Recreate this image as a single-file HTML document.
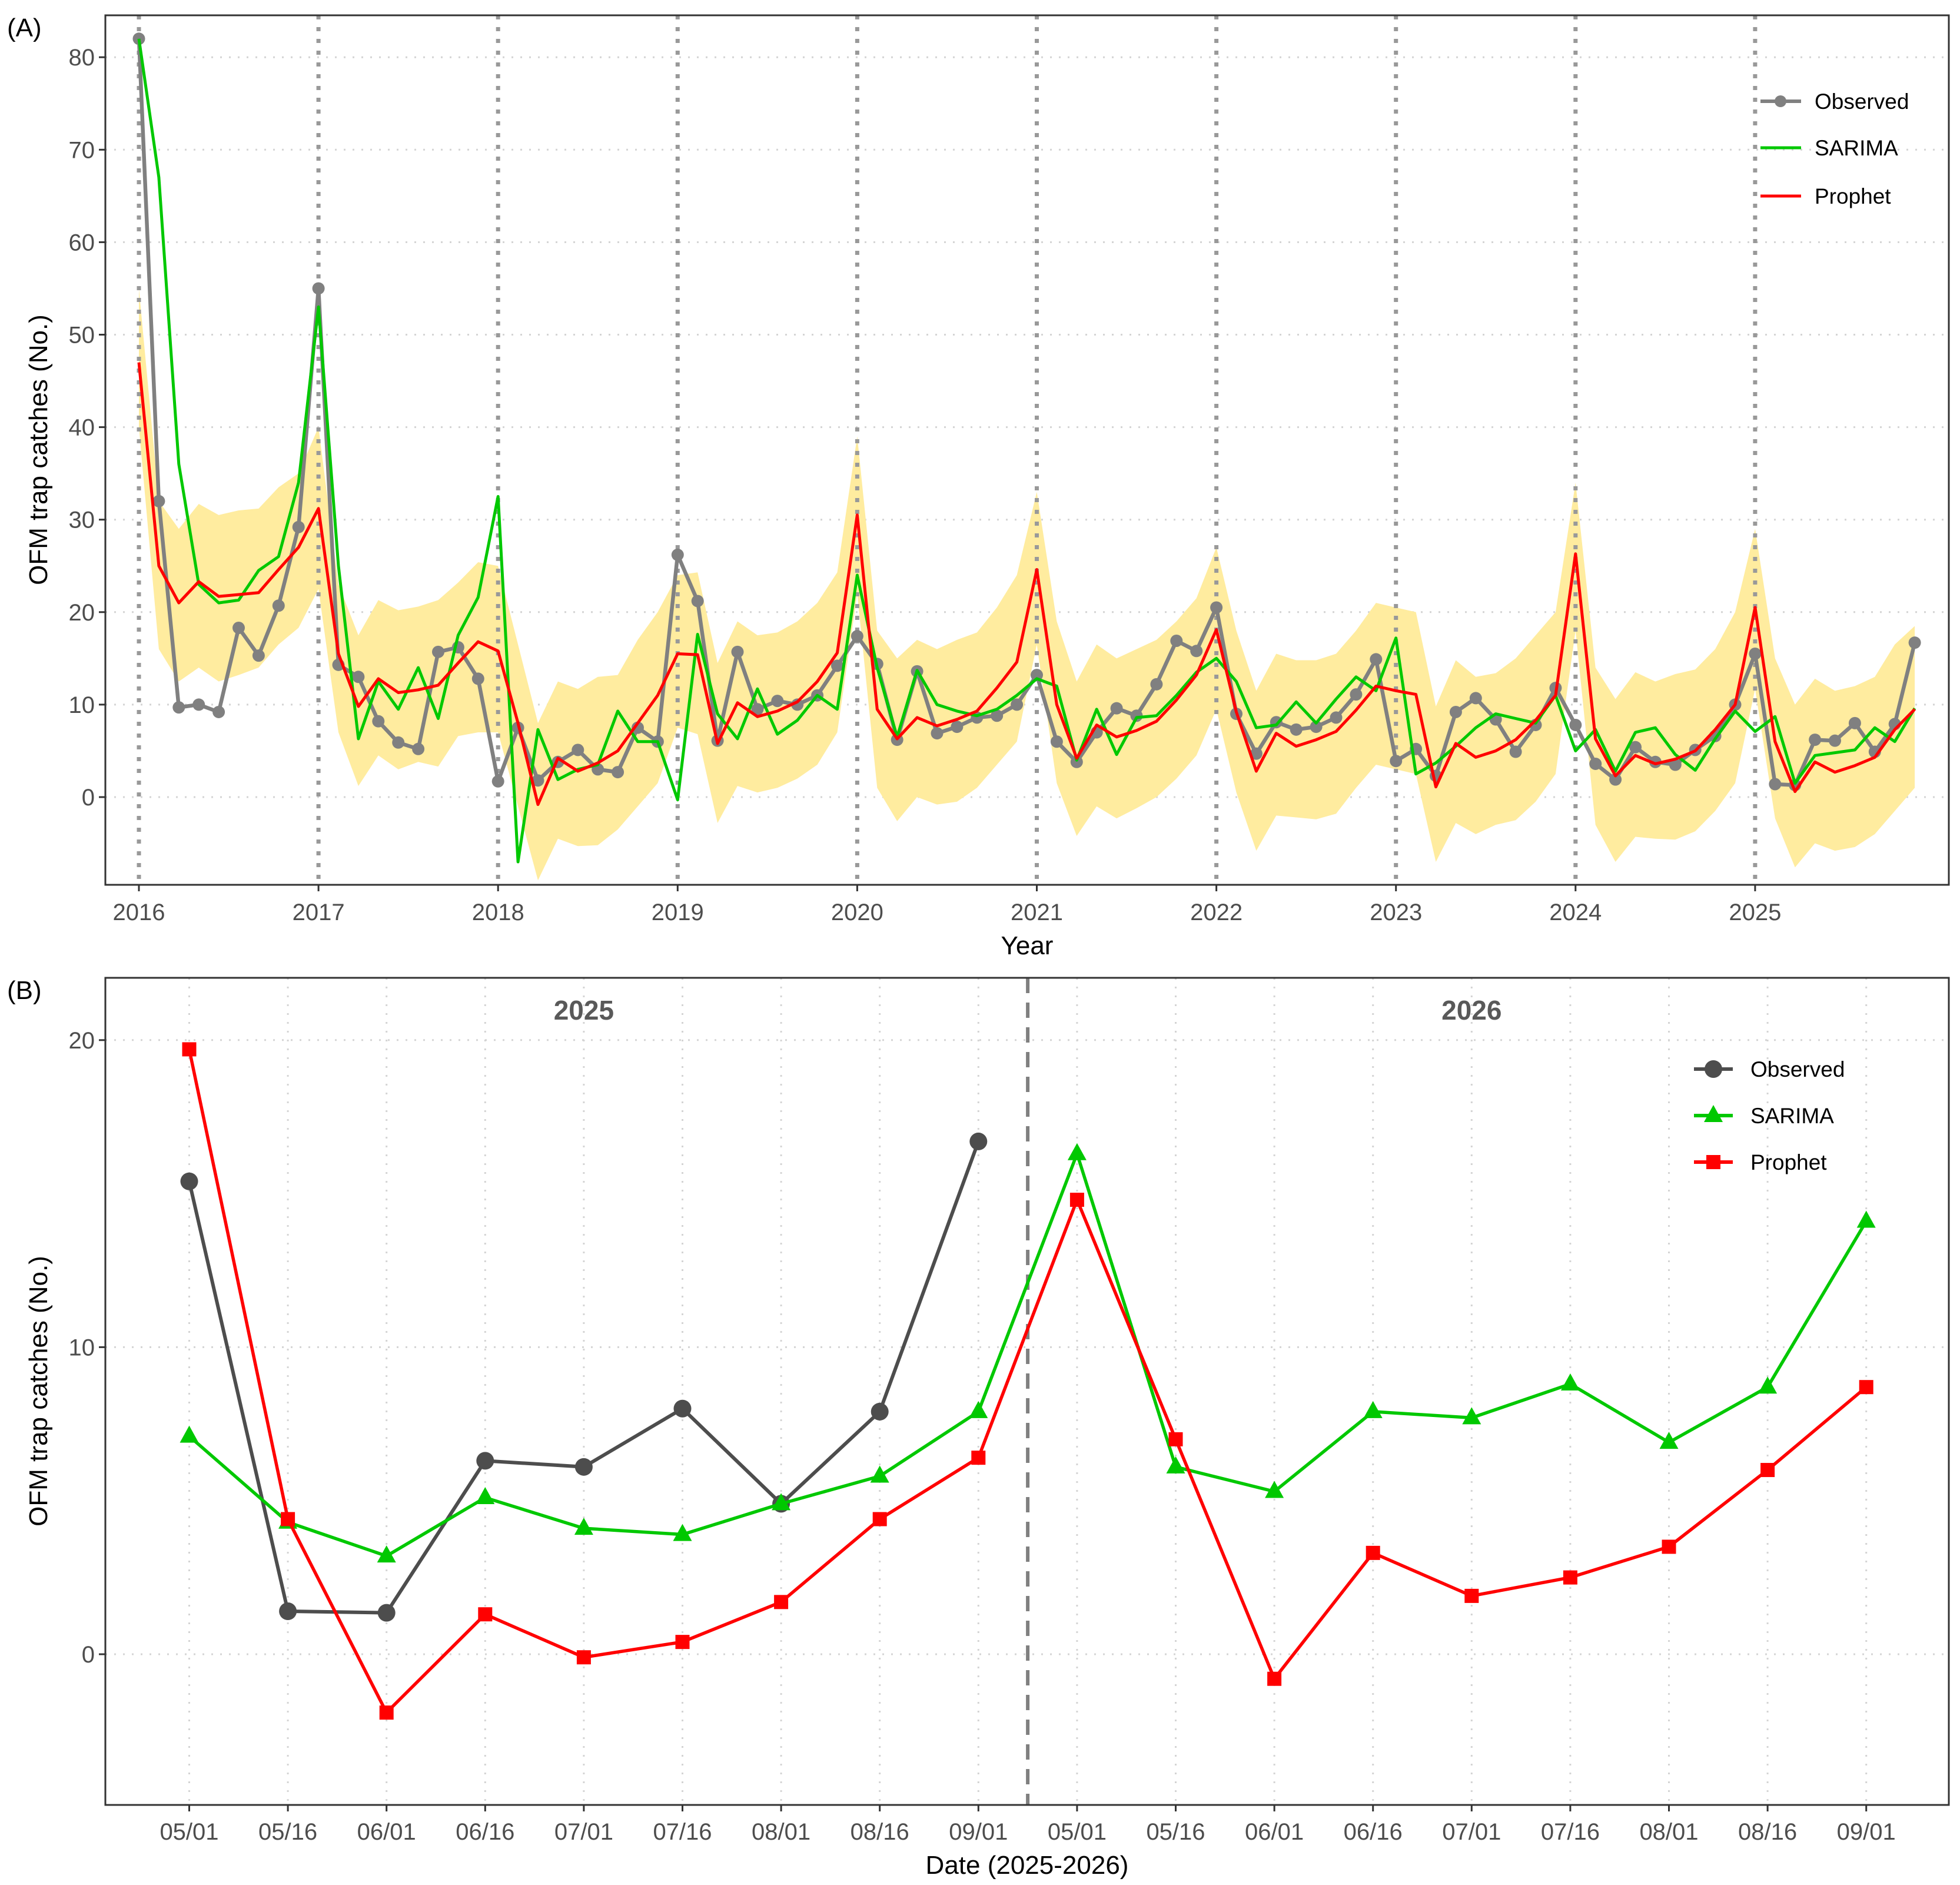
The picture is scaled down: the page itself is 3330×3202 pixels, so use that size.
<!DOCTYPE html>
<html><head><meta charset="utf-8"><style>
html,body{margin:0;padding:0;background:#fff}
svg{display:block;font-family:"Liberation Sans",Arial,sans-serif}
</style></head><body>
<svg id="chart" width="3330" height="3202" viewBox="0 0 3330 3202" xmlns="http://www.w3.org/2000/svg">
<rect x="0" y="0" width="3330" height="3202" fill="#fff"/>
<g id="pa"></g>
<g id="pb"></g>
</svg>
<script>
// ---------- Panel A data ----------
const yearsA = [2016,2017,2018,2019,2020,2021,2022,2023,2024,2025];
const yTicksA = [0,10,20,30,40,50,60,70,80];
const observedA = [82,32,9.7,10,9.2,18.3,15.3,20.7,29.2, 55,14.3,13,8.2,5.9,5.2,15.7,16.2,12.8, 1.7,7.5,1.8,3.8,5.1,3.0,2.7,7.5,6.0, 26.2,21.2,6.1,15.7,9.5,10.4,10,11,14.2, 17.4,14.4,6.2,13.6,6.9,7.6,8.6,8.8,10, 13.2,6,3.8,7,9.6,8.8,12.2,16.9,15.8, 20.5,9,4.7,8.1,7.3,7.6,8.6,11.1,14.9, 3.9,5.2,2.3,9.2,10.7,8.4,4.9,7.8,11.8, 7.8,3.6,1.9,5.4,3.8,3.5,5.1,6.6,10, 15.5,1.4,1.3,6.2,6.1,8,4.9,7.9,16.7];
const sarimaA = [82,67,36,23,21,21.3,24.5,26,34, 53,25,6.3,12.5,9.5,14,8.5,17.5,21.6, 32.5,-7,7.3,1.9,3,3.5,9.3,6,6, -0.3,17.6,9,6.3,11.7,6.8,8.3,11,9.5, 24,14,6.5,13.7,10,9.3,8.8,9.5,11, 12.8,12,4,9.5,4.6,8.6,8.8,11,13.5, 15,12.5,7.5,7.8,10.3,8,10.6,13,11.5, 17.2,2.5,3.7,5.5,7.5,9,8.5,8,11, 5,7.3,2.8,7,7.5,4.6,2.9,6.3,9.3, 7.1,8.7,1.5,4.5,4.8,5.1,7.5,6,9.6];
const prophetA = [47,25,21,23.3,21.7,21.9,22.1,24.6,27, 31.2,15.5,9.8,12.8,11.3,11.6,12.1,14.5,16.8, 15.8,8,-0.8,4.2,2.8,3.7,5,8,11, 15.5,15.4,5.8,10.2,8.7,9.3,10.3,12.5,15.6, 30.5,9.5,6.3,8.6,7.7,8.4,9.3,11.8,14.6, 24.6,10,4.2,7.8,6.5,7.2,8.2,10.5,13.2, 18.1,9.2,2.8,6.9,5.5,6.2,7.1,9.4,12, 11.5,11.1,1.1,5.8,4.3,5,6.2,8.3,11, 26.3,6.3,2.3,4.5,3.6,4.1,5,7.3,10, 20.5,6,0.6,3.8,2.7,3.4,4.3,7.3,9.5];
const upperA = [55,32,29,31.7,30.5,31,31.2,33.5,35, 40,23,17.5,21.3,20.2,20.6,21.3,23.2,25.4, 25,16.5,8,12.5,11.7,13,13.2,17,20, 24,24.3,14.5,19,17.5,17.8,19,21,24.3, 39,18,15,17,16,17,17.8,20.5,24, 33,19,12.5,16.5,15,16,17,19,21.5, 27,18,11.5,15.5,14.8,14.8,15.5,18,21, 20.5,20,9.8,14.8,13,13.4,15,17.5,20, 34,14,10.6,13.5,12.5,13.3,13.8,16,20, 29,15,10,12.8,11.5,12,13,16.5,18.5];
const lowerA = [40,16,12.5,14,12.5,13.2,14,16.5,18.3, 22.5,7,1.2,4.5,3,3.8,3.3,6.6,7, 7,-1,-9,-4.5,-5.3,-5.2,-3.5,-1,1.5, 7.5,6.8,-2.8,1.2,0.5,1,2,3.5,7, 22,1,-2.6,0,-0.8,-0.5,1,3.5,6, 16.5,1.5,-4.2,-1,-2.3,-1.2,0,2,4.5, 9.5,0.5,-5.8,-2,-2.2,-2.4,-1.8,1,3.5, 3,2.5,-7,-2.8,-4,-3,-2.5,-0.5,2.5, 18,-3,-7,-4.3,-4.5,-4.6,-3.7,-1.5,1.5, 11.7,-2.3,-7.6,-5,-5.8,-5.4,-4,-1.5,1];

// ---------- Panel B data ----------
const datesB = ["05/01","05/16","06/01","06/16","07/01","07/16","08/01","08/16","09/01","05/01","05/16","06/01","06/16","07/01","07/16","08/01","08/16","09/01"];
const yTicksB = [0,10,20];
const observedB = [15.4,1.4,1.35,6.3,6.1,8.0,4.9,7.9,16.7];
const sarimaB = [7.1,4.3,3.2,5.1,4.1,3.9,4.9,5.8,7.9, 16.3,6.1,5.3,7.9,7.7,8.8,6.9,8.7,14.1];
const prophetB = [19.7,4.4,-1.9,1.3,-0.1,0.4,1.7,4.4,6.4, 14.8,7.0,-0.8,3.3,1.9,2.5,3.5,6.0,8.7];
const yearLabelsB = ["2025","2026"];

const NS="http://www.w3.org/2000/svg";
function mk(parent,tag,attrs,text){const e=document.createElementNS(NS,tag);for(const k in attrs)e.setAttribute(k,attrs[k]);if(text!==undefined)e.textContent=text;parent.appendChild(e);return e;}

// ===== Panel A =====
const A={l:179,r:3311,t:26,b:1503};
const xA=i=>236+i*(305.1/9);
const yA=v=>1354-v*15.71;
const pa=document.getElementById('pa');
yTicksA.forEach(v=>{const g=mk(pa,'line',{x1:A.l,x2:A.r,y1:yA(v),y2:yA(v),stroke:'#d4d4d4','stroke-width':3,'stroke-dasharray':'3 12'});

});
let rp='';
upperA.forEach((v,i)=>{rp+=(i?'L':'M')+xA(i)+','+yA(v);});
for(let i=lowerA.length-1;i>=0;i--)rp+='L'+xA(i)+','+yA(lowerA[i]);
const rib=mk(pa,'path',{d:rp+'Z',fill:'#FFEC9F',stroke:'none'});


yearsA.forEach((y,k)=>{const x=xA(k*9);const l=mk(pa,'line',{x1:x,x2:x,y1:A.t,y2:A.b,stroke:'#999','stroke-width':7,'stroke-dasharray':'7 13'});

});
function lineA(arr,color,w,name){let d='';arr.forEach((v,i)=>{d+=(i?'L':'M')+xA(i).toFixed(1)+','+yA(v).toFixed(1);});
const p=mk(pa,'path',{d:d,fill:'none',stroke:color,'stroke-width':w,'stroke-linejoin':'round'});

}
lineA(observedA,'#808080',6.5,'observed-line');
observedA.forEach((v,i)=>{const c=mk(pa,'circle',{cx:xA(i),cy:yA(v),r:10.5,fill:'#808080'});

});
lineA(sarimaA,'#00C800',5,'sarima-line');
lineA(prophetA,'#FF0000',5,'prophet-line');
const fa=mk(pa,'rect',{x:A.l,y:A.t,width:A.r-A.l,height:A.b-A.t,fill:'none',stroke:'#333','stroke-width':3});


yTicksA.forEach(v=>{mk(pa,'line',{x1:A.l-11,x2:A.l,y1:yA(v),y2:yA(v),stroke:'#333','stroke-width':3});
const t=mk(pa,'text',{x:A.l-18,y:yA(v)+14,'text-anchor':'end','font-size':40,fill:'#4d4d4d'},String(v));

});
yearsA.forEach((y,k)=>{const x=xA(k*9);mk(pa,'line',{x1:x,x2:x,y1:A.b,y2:A.b+11,stroke:'#333','stroke-width':3});
const t=mk(pa,'text',{x:x,y:1563,'text-anchor':'middle','font-size':40,fill:'#4d4d4d'},String(y));

});
let t;
t=mk(pa,'text',{x:1745,y:1621,'text-anchor':'middle','font-size':44,fill:'#000'},'Year');


t=mk(pa,'text',{x:80,y:764,'text-anchor':'middle','font-size':44,fill:'#000',transform:'rotate(-90 80 764)'},'OFM trap catches (No.)');


t=mk(pa,'text',{x:12,y:62,'font-size':44,fill:'#000'},'(A)');


const legA=[['Observed','#808080',172,true],['SARIMA','#00C800',251,false],['Prophet','#FF0000',333,false]];
legA.forEach(e=>{const g=mk(pa,'g',{});


mk(g,'line',{x1:2991,x2:3060,y1:e[2],y2:e[2],stroke:e[1],'stroke-width':e[3]?6:5});
if(e[3])mk(g,'circle',{cx:3025,cy:e[2],r:10,fill:e[1]});
mk(g,'text',{x:3083,y:e[2]+13,'font-size':37,fill:'#000'},e[0]);});

// ===== Panel B =====
const B={l:179,r:3311,t:1661,b:3066};
const xB=i=>321.5+i*167.6;
const yB=v=>2810-v*52.16;
const pb=document.getElementById('pb');
yTicksB.forEach(v=>{const g=mk(pb,'line',{x1:B.l,x2:B.r,y1:yB(v),y2:yB(v),stroke:'#d4d4d4','stroke-width':3,'stroke-dasharray':'3 12'});

});
datesB.forEach((d,i)=>{const g=mk(pb,'line',{x1:xB(i),x2:xB(i),y1:B.t,y2:B.b,stroke:'#d4d4d4','stroke-width':3,'stroke-dasharray':'3 12'});

});
const sep=mk(pb,'line',{x1:xB(8.5),x2:xB(8.5),y1:B.t,y2:B.b,stroke:'#808080','stroke-width':6,'stroke-dasharray':'26 16'});


function lineB(arr,color,w,name){let d='';arr.forEach((v,i)=>{d+=(i?'L':'M')+xB(i).toFixed(1)+','+yB(v).toFixed(1);});
const p=mk(pb,'path',{d:d,fill:'none',stroke:color,'stroke-width':w,'stroke-linejoin':'round'});

}
function tri(g,x,y,c){mk(g,'polygon',{points:`${x},${y-18} ${x-16},${y+11} ${x+16},${y+11}`,fill:c});}
function sq(g,x,y,c){mk(g,'rect',{x:x-12,y:y-12,width:24,height:24,fill:c});}
lineB(observedB,'#4d4d4d',6,'observed-line');
observedB.forEach((v,i)=>{const c=mk(pb,'circle',{cx:xB(i),cy:yB(v),r:15,fill:'#4d4d4d'});

});
lineB(sarimaB,'#00C800',5.5,'sarima-line');
sarimaB.forEach((v,i)=>{const g=mk(pb,'g',{});


tri(g,xB(i),yB(v),'#00C800');});
lineB(prophetB,'#FF0000',5.5,'prophet-line');
prophetB.forEach((v,i)=>{const g=mk(pb,'g',{});


sq(g,xB(i),yB(v),'#FF0000');});
const fb=mk(pb,'rect',{x:B.l,y:B.t,width:B.r-B.l,height:B.b-B.t,fill:'none',stroke:'#333','stroke-width':3});


yTicksB.forEach(v=>{mk(pb,'line',{x1:B.l-11,x2:B.l,y1:yB(v),y2:yB(v),stroke:'#333','stroke-width':3});
const t=mk(pb,'text',{x:B.l-18,y:yB(v)+14,'text-anchor':'end','font-size':40,fill:'#4d4d4d'},String(v));

});
datesB.forEach((d,i)=>{mk(pb,'line',{x1:xB(i),x2:xB(i),y1:B.b,y2:B.b+11,stroke:'#333','stroke-width':3});
const t=mk(pb,'text',{x:xB(i),y:3125,'text-anchor':'middle','font-size':40,fill:'#4d4d4d'},d);

});
yearLabelsB.forEach((y,k)=>{const t=mk(pb,'text',{x:xB(4+k*9),y:1732,'text-anchor':'middle','font-size':46,'font-weight':'bold',fill:'#595959'},y);

});
t=mk(pb,'text',{x:1745,y:3183,'text-anchor':'middle','font-size':44,fill:'#000'},'Date (2025-2026)');


t=mk(pb,'text',{x:80,y:2363,'text-anchor':'middle','font-size':44,fill:'#000',transform:'rotate(-90 80 2363)'},'OFM trap catches (No.)');


t=mk(pb,'text',{x:12,y:1697,'font-size':44,fill:'#000'},'(B)');


const legB=[['Observed','#4d4d4d',1816,'c'],['SARIMA','#00C800',1895,'t'],['Prophet','#FF0000',1974,'s']];
legB.forEach(e=>{const g=mk(pb,'g',{});


mk(g,'line',{x1:2878,x2:2944,y1:e[2],y2:e[2],stroke:e[1],'stroke-width':6});
if(e[3]==='c')mk(g,'circle',{cx:2911,cy:e[2],r:15,fill:e[1]});
if(e[3]==='t')tri(g,2911,e[2],e[1]);
if(e[3]==='s')sq(g,2911,e[2],e[1]);
mk(g,'text',{x:2974,y:e[2]+13,'font-size':37,fill:'#000'},e[0]);});
</script>
</body></html>
